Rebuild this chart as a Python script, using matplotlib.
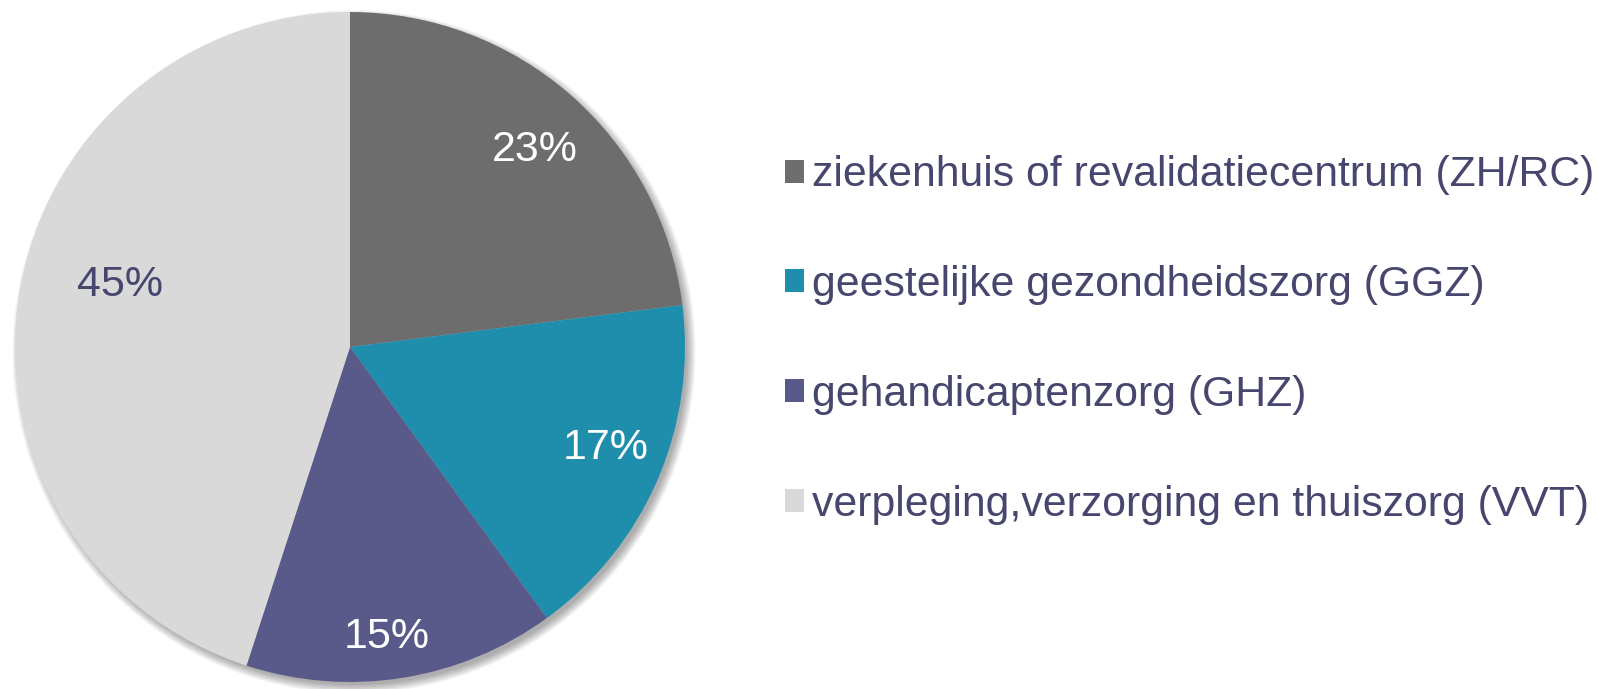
import matplotlib
matplotlib.use("Agg")
import matplotlib.pyplot as plt
from matplotlib.patches import Circle

plt.rcParams['font.family'] = ['Liberation Sans', 'DejaVu Sans']

categories = [
    "ziekenhuis of revalidatiecentrum (ZH/RC)",
    "geestelijke gezondheidszorg (GGZ)",
    "gehandicaptenzorg (GHZ)",
    "verpleging,verzorging en thuiszorg (VVT)",
]
shares = [23, 17, 15, 45]
colors = ["#6d6d6d", "#1f8ead", "#5a5a8a", "#d9d9d9"]
label_colors = ["white", "white", "white", "#46466e"]
# label placement in units of the pie radius
label_xy = [(0.552, 0.588), (0.764, -0.301), (0.110, -0.866), (-0.687, 0.185)]
text_color = "#46466e"

W, H = 1598, 689
fig = plt.figure(figsize=(W / 100, H / 100), dpi=100)

cx, cy, r = 350, 347, 335
ax = fig.add_axes([(cx - r) / W, (H - cy - r) / H, 2 * r / W, 2 * r / H])

# soft drop shadow, mostly bottom-right
for i in range(7):
    ax.add_patch(Circle((0.012, -0.014), 0.995 + 0.004 * i, color="black",
                        alpha=0.05, lw=0, zorder=0, clip_on=False))

wedges, texts, autotexts = ax.pie(
    shares, colors=colors, startangle=90, counterclock=False,
    autopct="%d%%", radius=1.0,
    wedgeprops=dict(linewidth=0, zorder=2),
    textprops=dict(fontsize=31),
)

for t, xy, c in zip(autotexts, label_xy, label_colors):
    t.set_position(xy)
    t.set_color(c)
    t.set_zorder(5)

ax.set_xlim(-1, 1)
ax.set_ylim(-1, 1)
ax.set_aspect("equal")
ax.axis("off")

leg = fig.legend(
    wedges, categories, loc="center left",
    bbox_to_anchor=(785 / W, 1 - 340 / H),
    frameon=False, fontsize=30.8,
    handlelength=0.45, handleheight=0.45, handletextpad=0.17,
    labelspacing=1.63, borderpad=0, borderaxespad=0,
)
for t in leg.get_texts():
    t.set_color(text_color)

fig.savefig("out.png", dpi=100, facecolor="white")
